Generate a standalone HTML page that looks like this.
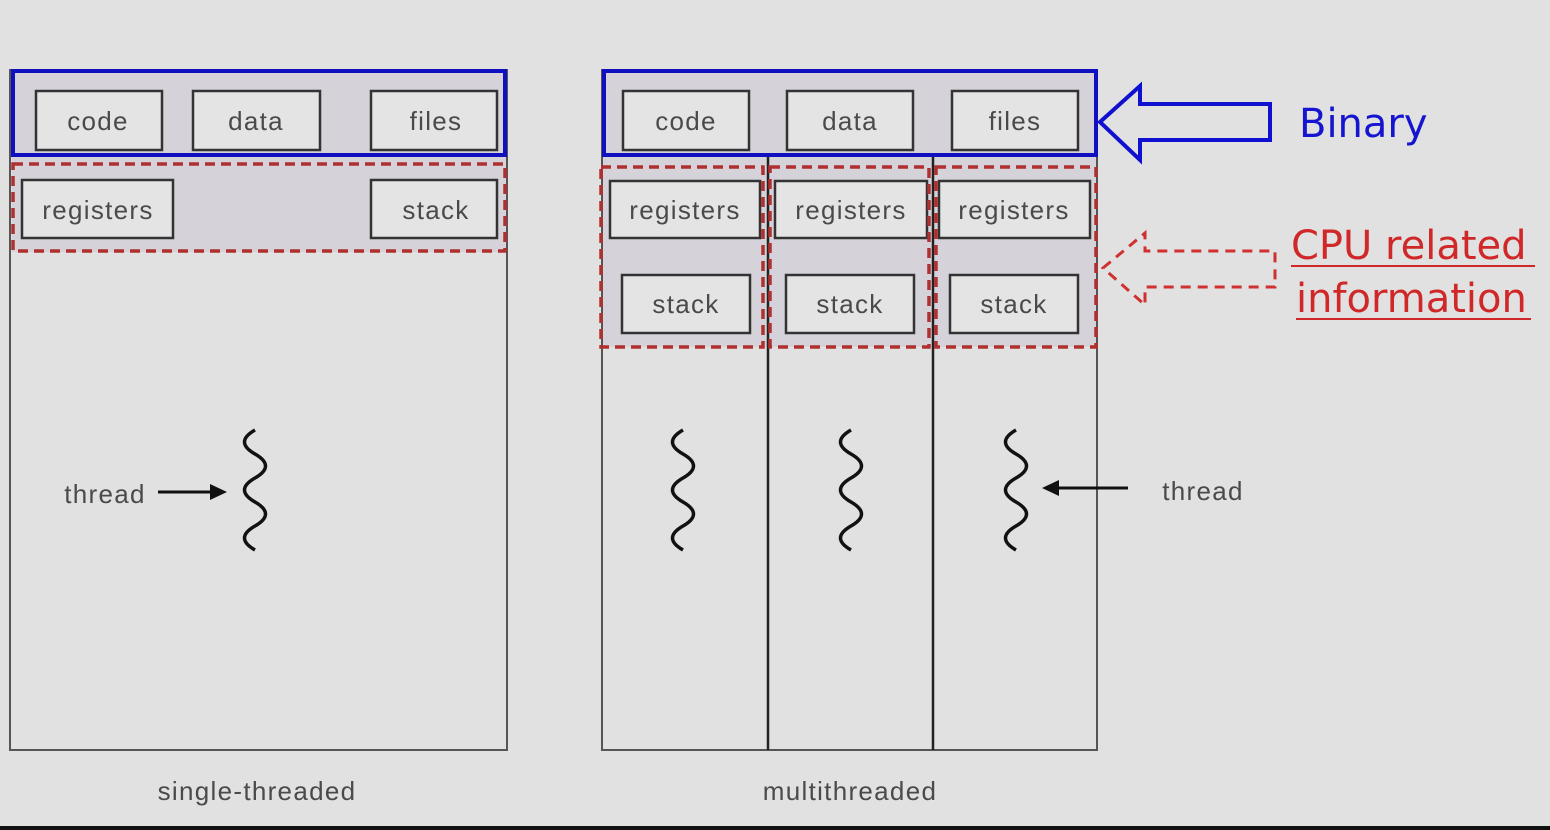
<!DOCTYPE html>
<html><head><style>
html,body{margin:0;padding:0;background:#e1e1e1;}
svg{display:block}
text{font-family:"Liberation Sans",sans-serif;fill:#4a4a4a}
.lbl{letter-spacing:1.3px}
.hand{font-family:"Comic Sans MS","DejaVu Sans",sans-serif}
</style></head><body>
<svg width="1550" height="830" viewBox="0 0 1550 830">
<defs>
<path id="sq" d="M0,0 c-14,8 -14,16 0,24 c14,8 14,16 0,24 c-14,8 -14,16 0,24 c14,8 14,16 0,24 c-14,8 -14,16 0,24" fill="none" stroke="#111" stroke-width="3.5"/>
</defs>
<rect x="0" y="0" width="1550" height="830" fill="#e1e1e1"/>
<!-- left panel -->
<rect x="10" y="70" width="497" height="680" fill="none" stroke="#555" stroke-width="2"/>
<rect x="12" y="70" width="494" height="182" fill="#d5d3d9"/>
<g fill="#e4e4e4" stroke="#333" stroke-width="2.5">
<rect x="36" y="91" width="126" height="59"/><rect x="193" y="91" width="127" height="59"/><rect x="371" y="91" width="126" height="59"/>
<rect x="22" y="180" width="151" height="58"/><rect x="371" y="180" width="126" height="58"/>
</g>
<rect x="13" y="71" width="492" height="84" fill="none" stroke="#1010c0" stroke-width="4"/>
<rect x="13" y="164" width="492" height="87" fill="none" stroke="#b03030" stroke-width="3.5" stroke-dasharray="10,6"/>
<g font-size="26" text-anchor="middle" class="lbl">
<text x="98" y="130">code</text><text x="256" y="130">data</text><text x="436" y="130">files</text>
<text x="98" y="219">registers</text><text x="436" y="219">stack</text>
</g>
<use href="#sq" x="255" y="430"/>
<text x="105" y="503" font-size="26" text-anchor="middle" class="lbl">thread</text>
<line x1="158" y1="492" x2="214" y2="492" stroke="#111" stroke-width="3"/>
<polygon points="227,492 210,484 210,500" fill="#111"/>
<text x="257" y="800" font-size="26" text-anchor="middle" class="lbl">single-threaded</text>
<!-- right panel -->
<rect x="602" y="70" width="495" height="680" fill="none" stroke="#555" stroke-width="2"/>
<rect x="603" y="70" width="493" height="277" fill="#d5d3d9"/>
<line x1="768" y1="156" x2="768" y2="750" stroke="#222" stroke-width="2.5"/>
<line x1="933" y1="156" x2="933" y2="750" stroke="#222" stroke-width="2.5"/>
<g fill="#e4e4e4" stroke="#333" stroke-width="2.5">
<rect x="623" y="91" width="126" height="59"/><rect x="787" y="91" width="126" height="59"/><rect x="952" y="91" width="126" height="59"/>
<rect x="610" y="181" width="150" height="57"/><rect x="775" y="181" width="152" height="57"/><rect x="939" y="181" width="151" height="57"/>
<rect x="622" y="275" width="128" height="58"/><rect x="786" y="275" width="128" height="58"/><rect x="950" y="275" width="128" height="58"/>
</g>
<rect x="604" y="71" width="492" height="84" fill="none" stroke="#1010c0" stroke-width="4"/>
<g fill="none" stroke="#b03030" stroke-width="3.5" stroke-dasharray="10,6">
<rect x="601" y="167" width="162" height="180"/><rect x="770" y="167" width="159" height="180"/><rect x="936" y="167" width="160" height="180"/>
</g>
<g font-size="26" text-anchor="middle" class="lbl">
<text x="686" y="130">code</text><text x="850" y="130">data</text><text x="1015" y="130">files</text>
<text x="685" y="219">registers</text><text x="851" y="219">registers</text><text x="1014" y="219">registers</text>
<text x="686" y="313">stack</text><text x="850" y="313">stack</text><text x="1014" y="313">stack</text>
</g>
<use href="#sq" x="683" y="430"/><use href="#sq" x="851" y="430"/><use href="#sq" x="1016" y="430"/>
<line x1="1128" y1="488" x2="1055" y2="488" stroke="#111" stroke-width="3"/>
<polygon points="1042,488 1059,480 1059,496" fill="#111"/>
<text x="1203" y="500" font-size="26" text-anchor="middle" class="lbl">thread</text>
<text x="850" y="800" font-size="26" text-anchor="middle" class="lbl">multithreaded</text>
<!-- annotations -->
<polygon points="1100,122 1140,86 1140,104 1270,104 1270,140 1140,140 1140,160" fill="none" stroke="#1010d0" stroke-width="4" stroke-linejoin="miter"/>
<text class="hand" x="1299" y="137" font-size="40" style="fill:#1515d0">Binary</text>
<polygon points="1103,268 1145,233 1145,251 1275,251 1275,287 1145,287 1145,305" fill="none" stroke="#d03030" stroke-width="3" stroke-dasharray="10,7"/>
<text class="hand" x="1291" y="259" font-size="40" style="fill:#d02828">CPU related</text>
<line x1="1291" y1="266" x2="1535" y2="266" stroke="#d02828" stroke-width="2"/>
<text class="hand" x="1296" y="312" font-size="40" style="fill:#d02828">information</text>
<line x1="1296" y1="319" x2="1531" y2="319" stroke="#d02828" stroke-width="2"/>
<rect x="0" y="826" width="1550" height="4" fill="#111"/>
</svg>
</body></html>
